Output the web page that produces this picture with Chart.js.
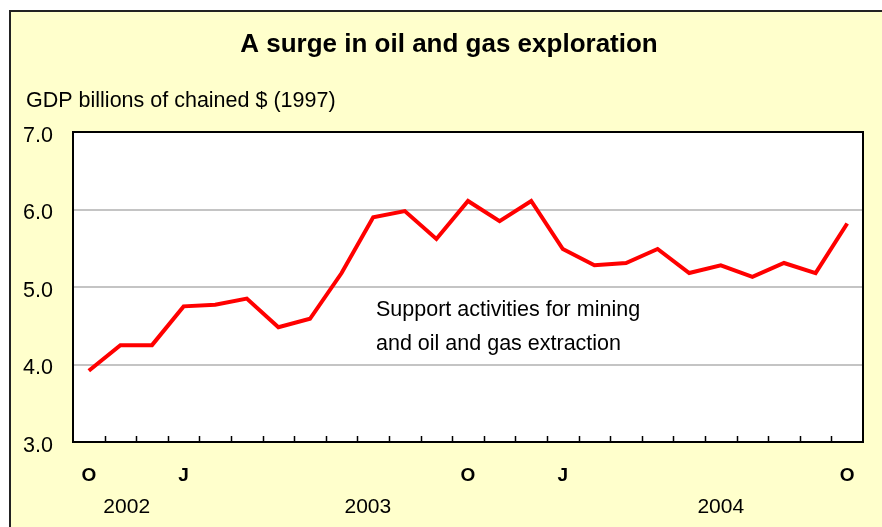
<!DOCTYPE html>
<html>
<head>
<meta charset="utf-8">
<script src="https://cdn.jsdelivr.net/npm/chart.js@4"></script>
<style>
  html, body { margin: 0; padding: 0; background: #ffffff; }
  canvas { display: block; }
</style>
</head>
<body>
<canvas id="c" width="882" height="527"></canvas>
<script>
// ---- data ----
const categories = [
  '2002-10','2002-11','2002-12',
  '2003-01','2003-02','2003-03','2003-04','2003-05','2003-06',
  '2003-07','2003-08','2003-09','2003-10','2003-11','2003-12',
  '2004-01','2004-02','2004-03','2004-04','2004-05','2004-06',
  '2004-07','2004-08','2004-09','2004-10'
];
const values = [
  3.92, 4.25, 4.25,
  4.75, 4.77, 4.85, 4.48, 4.59, 5.18,
  5.90, 5.98, 5.62, 6.11, 5.85, 6.11,
  5.49, 5.28, 5.31, 5.49, 5.18, 5.28,
  5.13, 5.31, 5.18, 5.82
];
const tickLetters = {
  '2002-10': 'O', '2003-01': 'J', '2003-10': 'O', '2004-01': 'J', '2004-10': 'O'
};
const yearLabels = ['2002', '2003', '2004'];
const yTicks = [3, 4, 5, 6, 7];
const titleText = 'A surge in oil and gas exploration';
const unitText = 'GDP billions of chained $ (1997)';
const noteLines = ['Support activities for mining', 'and oil and gas extraction'];

const FONT = "'Liberation Sans', Arial, Helvetica, sans-serif";
const yearAt = [1.2, 8.83, 20.0];

const decor = {
  id: 'decor',
  beforeDraw(chart) {
    const ctx = chart.ctx;
    const a = chart.chartArea;
    ctx.save();
    ctx.fillStyle = '#ffffff';
    ctx.fillRect(0, 0, chart.width, chart.height);
    ctx.fillStyle = '#FFFFCC';
    ctx.fillRect(10, 11, chart.width, chart.height);
    ctx.strokeStyle = '#222222';
    ctx.lineWidth = 2;
    ctx.beginPath();
    ctx.moveTo(10, chart.height + 5);
    ctx.lineTo(10, 11);
    ctx.lineTo(chart.width + 5, 11);
    ctx.stroke();
    ctx.fillStyle = '#ffffff';
    ctx.fillRect(a.left, a.top, a.right - a.left, a.bottom - a.top);
    ctx.restore();
  },
  afterDraw(chart) {
    const ctx = chart.ctx;
    const a = chart.chartArea;
    const xs = chart.scales.x;
    ctx.save();
    // plot border
    ctx.strokeStyle = '#000000';
    ctx.lineWidth = 2;
    ctx.strokeRect(a.left, a.top, a.right - a.left, a.bottom - a.top);
    // inward tick marks between categories
    ctx.beginPath();
    for (let i = 1; i < categories.length; i++) {
      const px = Math.round((xs.getPixelForValue(i - 1) + xs.getPixelForValue(i)) / 2) + 0.5;
      ctx.moveTo(px, a.bottom);
      ctx.lineTo(px, a.bottom - 6);
    }
    ctx.lineWidth = 1.5;
    ctx.stroke();
    // title
    ctx.fillStyle = '#000000';
    ctx.textBaseline = 'alphabetic';
    ctx.textAlign = 'center';
    ctx.font = 'bold 26px ' + FONT;
    ctx.fillText(titleText, 449, 52);
    // unit label
    ctx.textAlign = 'left';
    ctx.font = '21.5px ' + FONT;
    ctx.fillText(unitText, 26, 107);
    // annotation
    ctx.fillText(noteLines[0], 376, 316);
    ctx.fillText(noteLines[1], 376, 350);
    // year labels
    ctx.textAlign = 'center';
    ctx.font = '21px ' + FONT;
    yearLabels.forEach((y, i) => {
      ctx.fillText(y, xs.getPixelForValue(yearAt[i]), 513);
    });
    ctx.restore();
  }
};

new Chart(document.getElementById('c'), {
  type: 'line',
  data: {
    labels: categories,
    datasets: [{
      data: values,
      borderColor: '#FF0000',
      borderWidth: 4,
      pointRadius: 0,
      pointHoverRadius: 0,
      tension: 0,
      fill: false
    }]
  },
  options: {
    responsive: false,
    animation: false,
    events: [],
    layout: { padding: { top: 132, right: 19, bottom: 0, left: 0 } },
    plugins: {
      legend: { display: false },
      tooltip: { enabled: false },
      title: { display: false }
    },
    scales: {
      x: {
        type: 'category',
        offset: true,
        grid: { display: false, drawTicks: false },
        border: { display: false },
        ticks: {
          autoSkip: false,
          maxRotation: 0,
          minRotation: 0,
          padding: 22,
          color: '#000000',
          font: { family: FONT, size: 19, weight: 'bold' },
          callback: function (v, i) { return tickLetters[categories[i]] || ''; }
        },
        afterFit(s) { s.height = 85; }
      },
      y: {
        min: 3,
        max: 7,
        afterBuildTicks(s) { s.ticks = yTicks.map(v => ({ value: v })); },
        grid: {
          drawTicks: false,
          lineWidth: 2,
          color: ctx => (ctx.tick && (ctx.tick.value === 3 || ctx.tick.value === 7)) ? 'rgba(0,0,0,0)' : '#c4c4c4'
        },
        border: { display: false },
        ticks: {
          padding: 20,
          labelOffset: 4,
          color: '#000000',
          font: { family: FONT, size: 21.5 },
          callback: v => Number(v).toFixed(1)
        },
        afterFit(s) { s.width = 73; }
      }
    }
  },
  plugins: [decor]
});
</script>
</body>
</html>
